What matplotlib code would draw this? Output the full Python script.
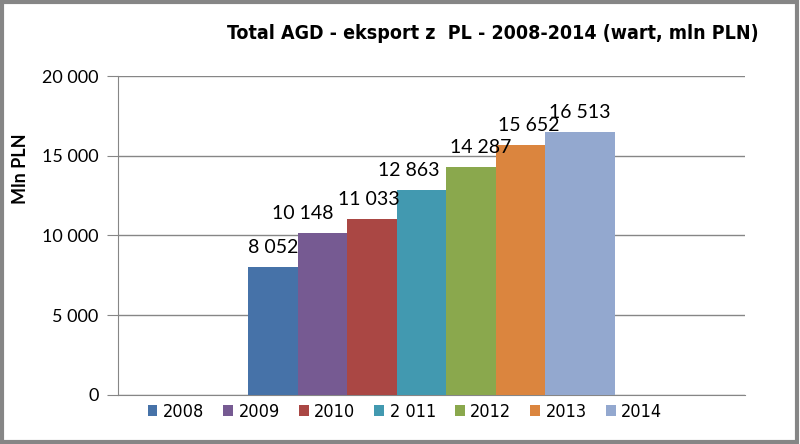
import matplotlib
matplotlib.use('Agg')
import matplotlib.pyplot as plt
from matplotlib.patches import Rectangle

years = ['2008', '2009', '2010', '2 011', '2012', '2013', '2014']
values = [8052, 10148, 11033, 12863, 14287, 15652, 16513]
labels = ['8 052', '10 148', '11 033', '12 863', '14 287', '15 652', '16 513']
colors = ['#4672A8', '#765A92', '#AA4744', '#4299B0', '#8AA84D', '#DB853E', '#93A8CF']
yticks = [0, 5000, 10000, 15000, 20000]
ytick_labels = ['0', '5 000', '10 000', '15 000', '20 000']

# bar widths (axis fraction) and label nudges (points), as drawn by Excel
bar_w = [0.079, 0.079, 0.079, 0.079, 0.079, 0.079, 0.1116]
label_dx = [0, -14, -2, -9, 7, 6, 0]

narrow = ['DejaVu Sans']
body = ['Lato', 'DejaVu Sans']

fig = plt.figure(figsize=(8, 4.44), dpi=100)
ax = fig.add_axes([0.1475, 0.1104, 0.7838, 0.7184])

left = -0.2927
for i, v in enumerate(values):
    x = left + bar_w[i] / 2
    ax.bar(x, v, width=bar_w[i], color=colors[i], label=years[i], zorder=3)
    ax.annotate(labels[i], (x, v), xytext=(label_dx[i], 14), textcoords='offset points',
                ha='center', va='center', fontsize=14, family=body, zorder=4)
    left += bar_w[i]

ax.set_xlim(-0.5, 0.5)
ax.set_ylim(0, 20000)
ax.set_yticks(yticks)
ax.set_yticklabels(ytick_labels, family=body, fontsize=13)
ax.set_xticks([])
ax.grid(axis='y', color='#868686', linewidth=1, zorder=0)
for s in ['top', 'right']:
    ax.spines[s].set_visible(False)
ax.spines['left'].set_color('#868686')
ax.spines['bottom'].set_color('#868686')
ax.tick_params(axis='y', length=8, color='#868686', pad=6)

fig.text(0.616, 0.925, 'Total AGD - eksport z  PL - 2008-2014 (wart, mln PLN)',
         ha='center', va='center', fontsize=14, fontweight='bold', family=narrow,
         fontstretch='condensed')
fig.text(0.025, 0.619, 'Mln PLN', rotation=90, ha='center', va='center',
         fontsize=13, fontweight='bold', family=body)

fig.legend(loc='center', bbox_to_anchor=(0.506, 0.073), ncol=7, frameon=False,
           prop={'family': narrow, 'size': 13, 'stretch': 'condensed'},
           handlelength=0.55, handleheight=0.55, handletextpad=0.3, columnspacing=1.05)

fig.patches.append(Rectangle((0.002, 0.004), 0.994, 0.992, transform=fig.transFigure,
                             fill=False, edgecolor='#868686', linewidth=3))

fig.savefig('out.png', dpi=100)
